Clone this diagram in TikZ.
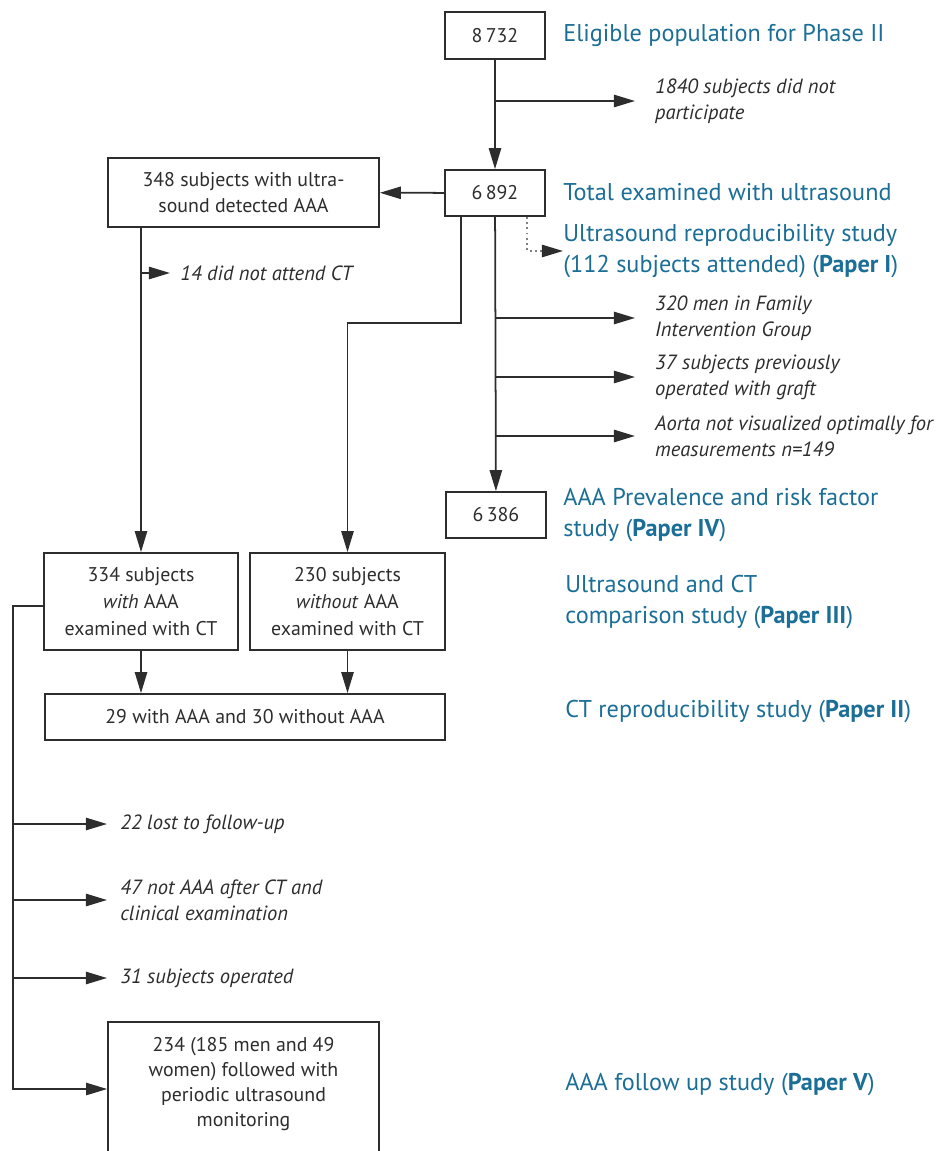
\documentclass[tikz,border=0pt]{standalone}
\usepackage{fontspec}
\setmainfont{PT Sans}
\usetikzlibrary{arrows.meta,positioning}
\definecolor{studyblue}{RGB}{27,110,150}
\definecolor{ink}{RGB}{45,45,45}
\tikzset{
  box/.style={draw=ink, line width=1pt, text=ink, align=center, inner sep=0pt,
    font=\fontsize{11.3}{15.3}\selectfont},
  note/.style={anchor=west, align=left, text=ink, inner ysep=0pt, inner xsep=11.3pt,
    font=\fontsize{11.7}{14.7}\selectfont\itshape},
  study/.style={anchor=west, align=left, text=studyblue, inner sep=0pt,
    font=\fontsize{13.8}{17.6}\selectfont},
  flow/.style={draw=ink, line width=1pt},
}

\begin{document}
\begin{tikzpicture}[x=0.02cm, y=-0.02cm, >={Triangle[length=12pt,width=7pt]}]
\useasboundingbox (0,0) rectangle (951,1151);

% Counts down the middle
\node[box, minimum width=2cm, minimum height=0.94cm] (n8732) at (495,35.5) {8\,732};
\node[box, minimum width=2cm, minimum height=0.92cm] (n6892) at (495,193) {6\,892};
\node[box, minimum width=2cm, minimum height=0.92cm] (n6386) at (496,515) {6\,386};

% Aneurysm branch
\node[box, minimum width=5.42cm, minimum height=1.38cm] (n348) at (243.5,192.5)
  {348 subjects with ultra-\\sound detected AAA};
\node[box, minimum width=3.88cm, minimum height=1.94cm] (n334) at (141,601.5)
  {334 subjects\\\textit{with} AAA\\examined with CT};
\node[box, minimum width=3.9cm, minimum height=1.94cm] (n230) at (347.5,601.5)
  {230 subjects\\\textit{without} AAA\\examined with CT};
\node[box, minimum width=8cm, minimum height=0.92cm] (n29) at (245,717)
  {29 with AAA and 30 without AAA};
\node[box, minimum width=5.42cm, minimum height=2.68cm] (n234frame) at (243.5,1089) {};
\node[box, draw=none, anchor=north, font=\fontsize{11.3}{14.4}\selectfont] (n234) at (243.5,1036)
  {234 (185 men and 49\\women) followed with\\periodic ultrasound\\monitoring};

% Drop-outs
\node[note] (n1840) at (635,101) {1840 subjects did not\\participate};
\node[note] (n320) at (635,318) {320 men in Family\\Intervention Group};
\node[note] (n37) at (635,377) {37 subjects previously\\operated with graft};
\node[note] (naorta) at (635,436) {Aorta not visualized optimally for\\measurements n=149};
\node[note, inner xsep=5.7pt] (n14) at (170,273) {14 did not attend CT};
\node[note, inner xsep=7.4pt] (n22) at (107,824) {22 lost to follow-up};
\node[note, inner xsep=7.4pt] (n47) at (107,900) {47 not AAA after CT and\\clinical examination};
\node[note, inner xsep=7.4pt] (n31) at (107,978) {31 subjects operated};

% Studies on the right
\node[study] (sElig) at (563,35) {Eligible population for Phase II};
\node[study] (sTotal) at (563,192) {Total examined with ultrasound};
\node[study] (sRepro) at (563,251)
  {Ultrasound reproducibility study\\(112 subjects attended) (\textbf{Paper I})};
\node[study] (sPrev) at (563,515) {AAA Prevalence and risk factor\\study (\textbf{Paper IV})};
\node[study] (sComp) at (565,602) {Ultrasound and CT\\comparison study (\textbf{Paper III})};
\node[study] (sCTrep) at (565,712) {CT reproducibility study (\textbf{Paper II})};
\node[study] (sFollow) at (565,1085) {AAA follow up study (\textbf{Paper V})};

% Middle trunk
\draw[flow,->] (n8732) -- (n6892);
\draw[flow,->] (n8732 |- n1840) -- (n1840);
\draw[flow,->] (n6892) -- (n6386);
\draw[flow,->] (n6892 |- n320) -- (n320);
\draw[flow,->] (n6892 |- n37) -- (n37);
\draw[flow,->] (n6892 |- naorta) -- (naorta);
\coordinate (dotx) at (527,0);
\draw[flow, draw=gray, dotted, -{Triangle[length=12pt,width=7pt,color=ink]}]
  (n6892.south -| dotx) |- (sRepro);

% Left side
\draw[flow,->] (n6892) -- (n348);
\draw[flow,->] (n348.south -| n334) -- (n334);
\draw[flow,->] (n334 |- n14) -- (n14);
\coordinate (bend) at (461,323);
\draw[flow,->] (n6892.south -| bend) -- (bend) -| (n230);
\draw[flow,->] (n334.south) -- (n334.south |- n29.north);
\draw[flow,->] (n230.south) -- (n230.south |- n29.north);

% Follow-up spine
\coordinate (spine) at (13,606);
\draw[flow,->] (n334.west |- spine) -- (spine) |- (n234frame);
\draw[flow,->] (spine |- n22) -- (n22);
\draw[flow,->] (spine |- n47) -- (n47);
\draw[flow,->] (spine |- n31) -- (n31);
\end{tikzpicture}
\end{document}
